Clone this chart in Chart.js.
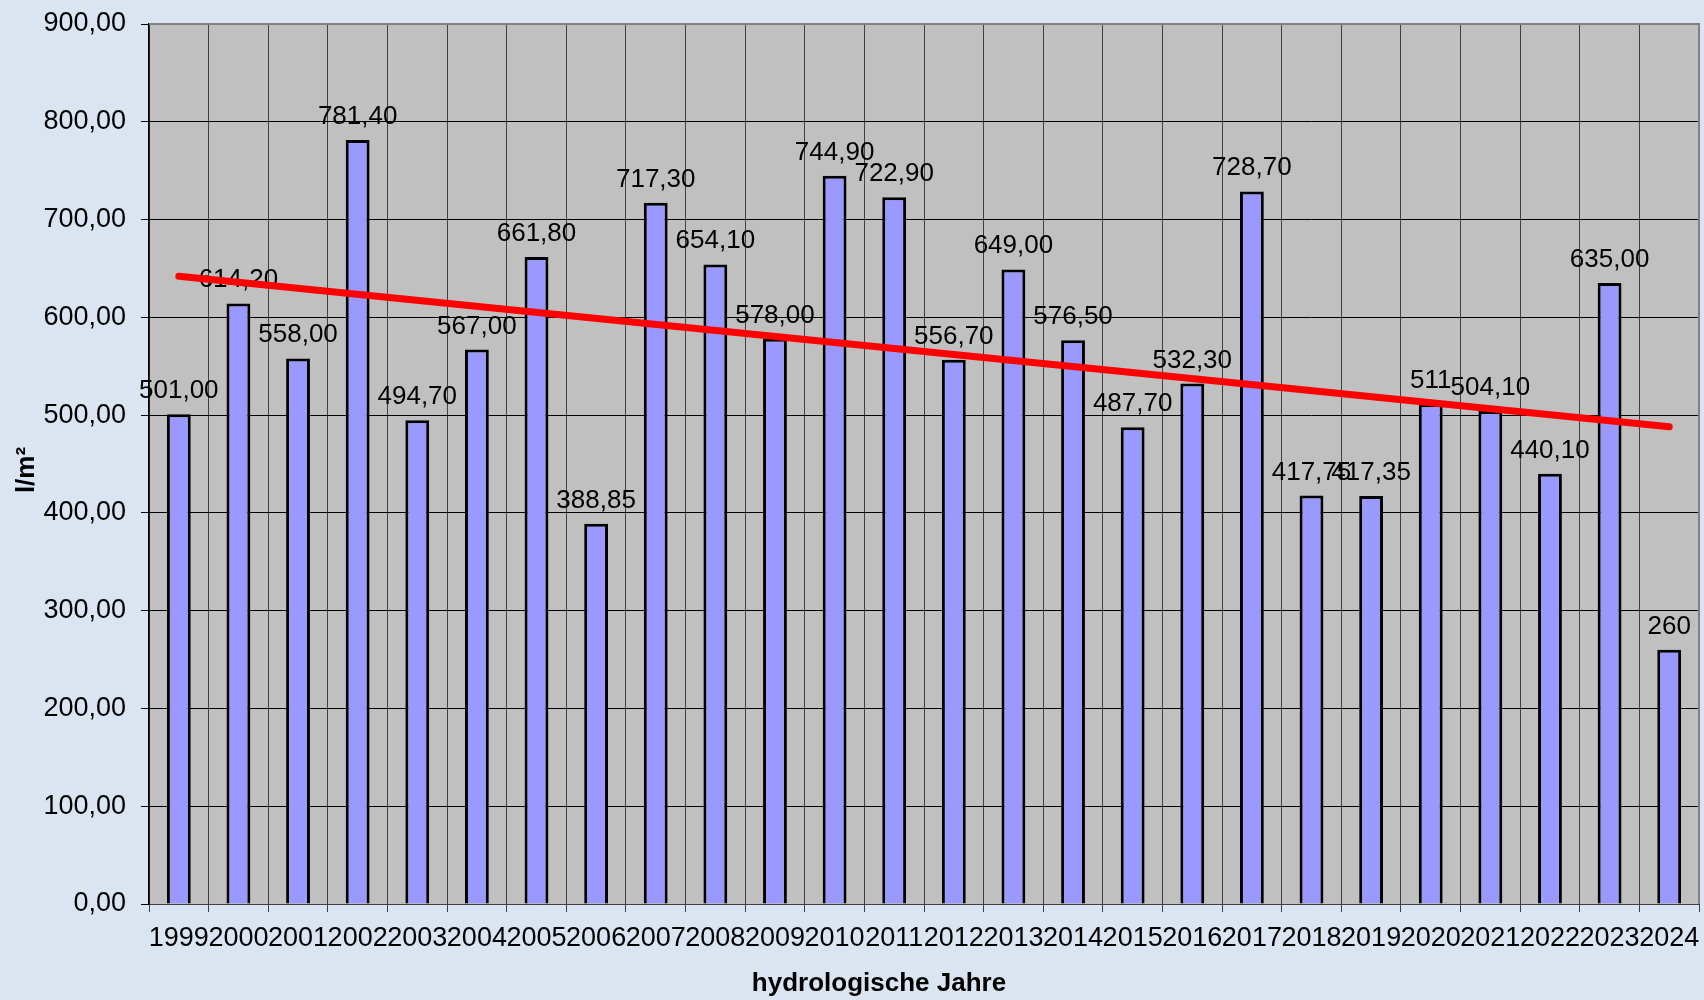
<!DOCTYPE html>
<html>
<head>
<meta charset="utf-8">
<script src="https://cdn.jsdelivr.net/npm/chart.js@4/dist/chart.umd.min.js"></script>
<style>
  html, body { margin: 0; padding: 0; background: #dbe5f1; }
  #wrap { width: 1704px; height: 1000px; }
</style>
</head>
<body>
<div id="wrap"><canvas id="rain-chart" width="1704" height="1000"></canvas></div>
<script>
// hydrological years
const years = ['1999','2000','2001','2002','2003','2004','2005','2006','2007','2008','2009','2010','2011',
    '2012','2013','2014','2015','2016','2017','2018','2019','2020','2021','2022','2023','2024'];

// precipitation l/m2
const rainfall = [501.00, 614.20, 558.00, 781.40, 494.70, 567.00, 661.80, 388.85, 717.30, 654.10, 578.00, 744.90, 722.90,
    556.70, 649.00, 576.50, 487.70, 532.30, 728.70, 417.75, 417.35, 511, 504.10, 440.10, 635.00, 260];

// labels as printed above the bars
const rainfallText = ['501,00','614,20','558,00','781,40','494,70','567,00','661,80','388,85','717,30','654,10','578,00',
    '744,90','722,90','556,70','649,00','576,50','487,70','532,30','728,70','417,75','417,35','511','504,10','440,10',
    '635,00','260'];

// trend line ends
const trendYears = ['1999', '2024'];
const trendValues = [642, 488];

const FONT = '"Liberation Sans", Arial, sans-serif';

const plotBackground = {
    id: 'plotBackground',
    beforeDraw(chart) {
        const a = chart.chartArea, ctx = chart.ctx;
        ctx.save();
        ctx.fillStyle = '#c0c0c0';
        ctx.fillRect(a.left, a.top, a.right - a.left, a.bottom - a.top);
        ctx.restore();
    },
    beforeDatasetsDraw(chart) {
        const a = chart.chartArea, ctx = chart.ctx;
        ctx.save();
        ctx.strokeStyle = '#808080';
        ctx.lineWidth = 2;
        ctx.beginPath();
        ctx.moveTo(a.left, a.top);
        ctx.lineTo(a.right, a.top);
        ctx.lineTo(a.right, a.bottom);
        ctx.stroke();
        ctx.restore();
    }
};

const barLabels = {
    id: 'barLabels',
    afterDatasetDraw(chart, args) {
        if (args.index !== 1) return;
        const ctx = chart.ctx;
        ctx.save();
        ctx.font = '26px ' + FONT;
        ctx.fillStyle = '#000';
        ctx.textAlign = 'center';
        ctx.textBaseline = 'alphabetic';
        args.meta.data.forEach((bar, i) => {
            ctx.fillText(rainfallText[i], bar.x, bar.y - 16);
        });
        ctx.restore();
    }
};

const axisTitles = {
    id: 'axisTitles',
    afterDraw(chart) {
        const ctx = chart.ctx, a = chart.chartArea;
        ctx.save();
        ctx.font = 'bold 26px ' + FONT;
        ctx.fillStyle = '#000';
        ctx.textAlign = 'center';
        ctx.textBaseline = 'middle';
        ctx.fillText('hydrologische Jahre', chart.width / 2 + 27, 984);
        ctx.translate(27, (a.top + a.bottom) / 2 + 6);
        ctx.rotate(-Math.PI / 2);
        ctx.fillText('l/m²', 0, 0);
        ctx.restore();
    }
};

new Chart(document.querySelector('#rain-chart').getContext('2d'), {
    type: 'bar',
    data: {
        labels: years,
        datasets: [{
            type: 'line',
            data: trendYears.map((y, i) => ({ x: y, y: trendValues[i] })),
            borderColor: '#ff0000',
            borderWidth: 7,
            borderCapStyle: 'round',
            pointRadius: 0,
            fill: false
        }, {
            data: rainfall,
            backgroundColor: '#9999ff',
            borderColor: '#000000',
            borderWidth: 3,
            barPercentage: 0.4,
            categoryPercentage: 1.0
        }]
    },
    options: {
        responsive: false,
        animation: false,
        devicePixelRatio: 1,
        layout: { padding: { top: 24, right: 5, left: 0, bottom: 0 } },
        plugins: { legend: { display: false }, tooltip: { enabled: false } },
        scales: {
            x: {
                afterFit(scale) {
                    scale.height = 96;
                    scale.paddingLeft = 0;
                    scale.paddingRight = 0;
                },
                grid: { color: '#404040', lineWidth: 1, tickLength: 8, tickColor: '#404040', offset: true },
                border: { color: '#404040' },
                ticks: { color: '#000', font: { family: FONT, size: 27 }, padding: 10, maxRotation: 0, autoSkip: false }
            },
            y: {
                min: 0,
                max: 900,
                afterFit(scale) {
                    scale.width = 149;
                    scale.paddingTop = 0;
                    scale.paddingBottom = 0;
                },
                grid: {
                    color: ctx => ctx.tick && ctx.tick.value === 900 ? '#808080' : '#000000',
                    lineWidth: 1,
                    tickLength: 8,
                    tickColor: '#000'
                },
                border: { color: '#000', width: 1.5 },
                ticks: {
                    stepSize: 100,
                    color: '#000',
                    padding: 15,
                    font: { family: FONT, size: 27 },
                    callback: v => v.toFixed(2).replace('.', ',')
                }
            }
        }
    },
    plugins: [plotBackground, barLabels, axisTitles]
});
</script>
</body>
</html>
